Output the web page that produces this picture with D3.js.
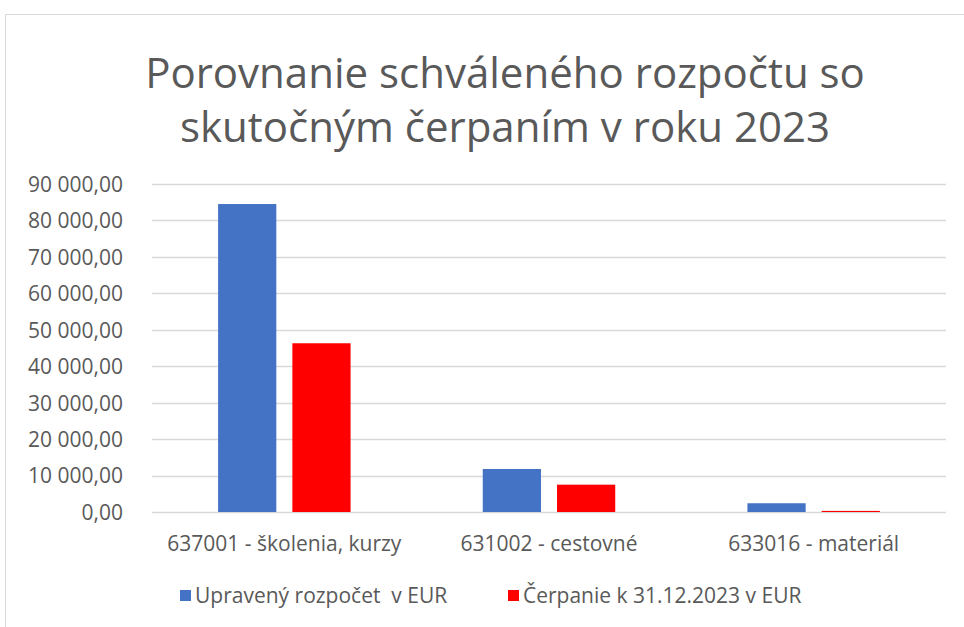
<!DOCTYPE html>
<html lang="sk">
<head>
<meta charset="UTF-8">
<title>Porovnanie rozpočtu</title>
<script src="https://d3js.org/d3.v7.min.js"></script>
<style>
  body { margin: 0; background: #fff; }
  text { font-family: "Open Sans", sans-serif; fill: #595959; }
</style>
</head>
<body>
<div class="chart"></div>
<script>
const categories = ["637001 - školenia, kurzy", "631002 - cestovné", "633016 - materiál"];
const seriesNames = ["Upravený rozpočet  v EUR", "Čerpanie k 31.12.2023 v EUR"];
const budget = [84500, 11800, 2400];
const spent = [46300, 7500, 300];
const yTicks = [0, 10000, 20000, 30000, 40000, 50000, 60000, 70000, 80000, 90000];
const colors = ["#4472c4", "#ff0000"];

const w = 964, h = 627;
const margin = { top: 184, right: 18, bottom: 115, left: 152 };

const svg = d3.select(".chart").append("svg").attr("width", w).attr("height", h);

// ram grafu
svg.append("rect")
  .attr("x", 5.5).attr("y", 14.5)
  .attr("width", w).attr("height", h)
  .attr("fill", "#fff").attr("stroke", "#d9d9d9");

// titulok
const title = svg.append("text")
  .attr("text-anchor", "middle")
  .style("font-size", "42px");
title.append("tspan").attr("x", 505).attr("y", 88).text("Porovnanie schváleného rozpočtu so");
title.append("tspan").attr("x", 505).attr("y", 142).text("skutočným čerpaním v roku 2023");

const x0 = d3.scaleBand()
  .domain(categories)
  .range([margin.left, w - margin.right]);

const x1 = d3.scaleBand()
  .domain([0, 1])
  .range([0, x0.bandwidth()])
  .paddingInner(0.216)
  .paddingOuter(0.89);

const y = d3.scaleLinear()
  .domain([0, 90000])
  .range([h - margin.bottom, margin.top]);

const fmt = v => d3.format(",.2f")(v).replace(/,/g, " ").replace(".", ",");

// mriežka
svg.append("g")
  .selectAll("line")
  .data(yTicks)
  .enter()
  .append("line")
  .attr("x1", margin.left).attr("x2", w - margin.right)
  .attr("y1", d => Math.round(y(d)) + 0.5).attr("y2", d => Math.round(y(d)) + 0.5)
  .attr("stroke", "#d9d9d9").attr("stroke-width", 1.3);

// os Y
const yAxis = d3.axisLeft(y).tickValues(yTicks).tickFormat(fmt).tickSize(0).tickPadding(29);
svg.append("g")
  .attr("transform", `translate(${margin.left}, 0)`)
  .call(yAxis)
  .call(g => g.select(".domain").remove())
  .selectAll("text")
  .style("font-size", "21px")
  .style("font-family", "'Open Sans', sans-serif")
  .style("fill", "#595959")
  .attr("dy", "0.35em");

// stĺpce
const groups = svg.append("g")
  .selectAll("g")
  .data(categories)
  .enter()
  .append("g")
  .attr("transform", d => `translate(${x0(d)}, 0)`);

groups.selectAll("rect")
  .data((d, i) => [budget[i], spent[i]])
  .enter()
  .append("rect")
  .attr("x", (d, j) => x1(j))
  .attr("y", d => y(d))
  .attr("width", x1.bandwidth())
  .attr("height", d => y(0) - y(d))
  .attr("fill", (d, j) => colors[j]);

// os X
const xAxis = d3.axisBottom(x0).tickSize(0).tickPadding(24);
svg.append("g")
  .attr("transform", `translate(0, ${y(0)})`)
  .call(xAxis)
  .call(g => g.select(".domain").remove())
  .selectAll("text")
  .style("font-size", "21px")
  .style("font-family", "'Open Sans', sans-serif")
  .style("fill", "#595959");

// legenda
const legendX = [180, 508];
const legend = svg.append("g")
  .selectAll("g")
  .data(seriesNames)
  .enter()
  .append("g")
  .attr("transform", (d, i) => `translate(${legendX[i]}, 590)`);

legend.append("rect")
  .attr("width", 11).attr("height", 11)
  .attr("fill", (d, i) => colors[i]);

legend.append("text")
  .attr("x", 15).attr("y", 6)
  .attr("dy", "0.35em")
  .style("font-size", "21px")
  .style("white-space", "pre")
  .text(d => d);
</script>
</body>
</html>
